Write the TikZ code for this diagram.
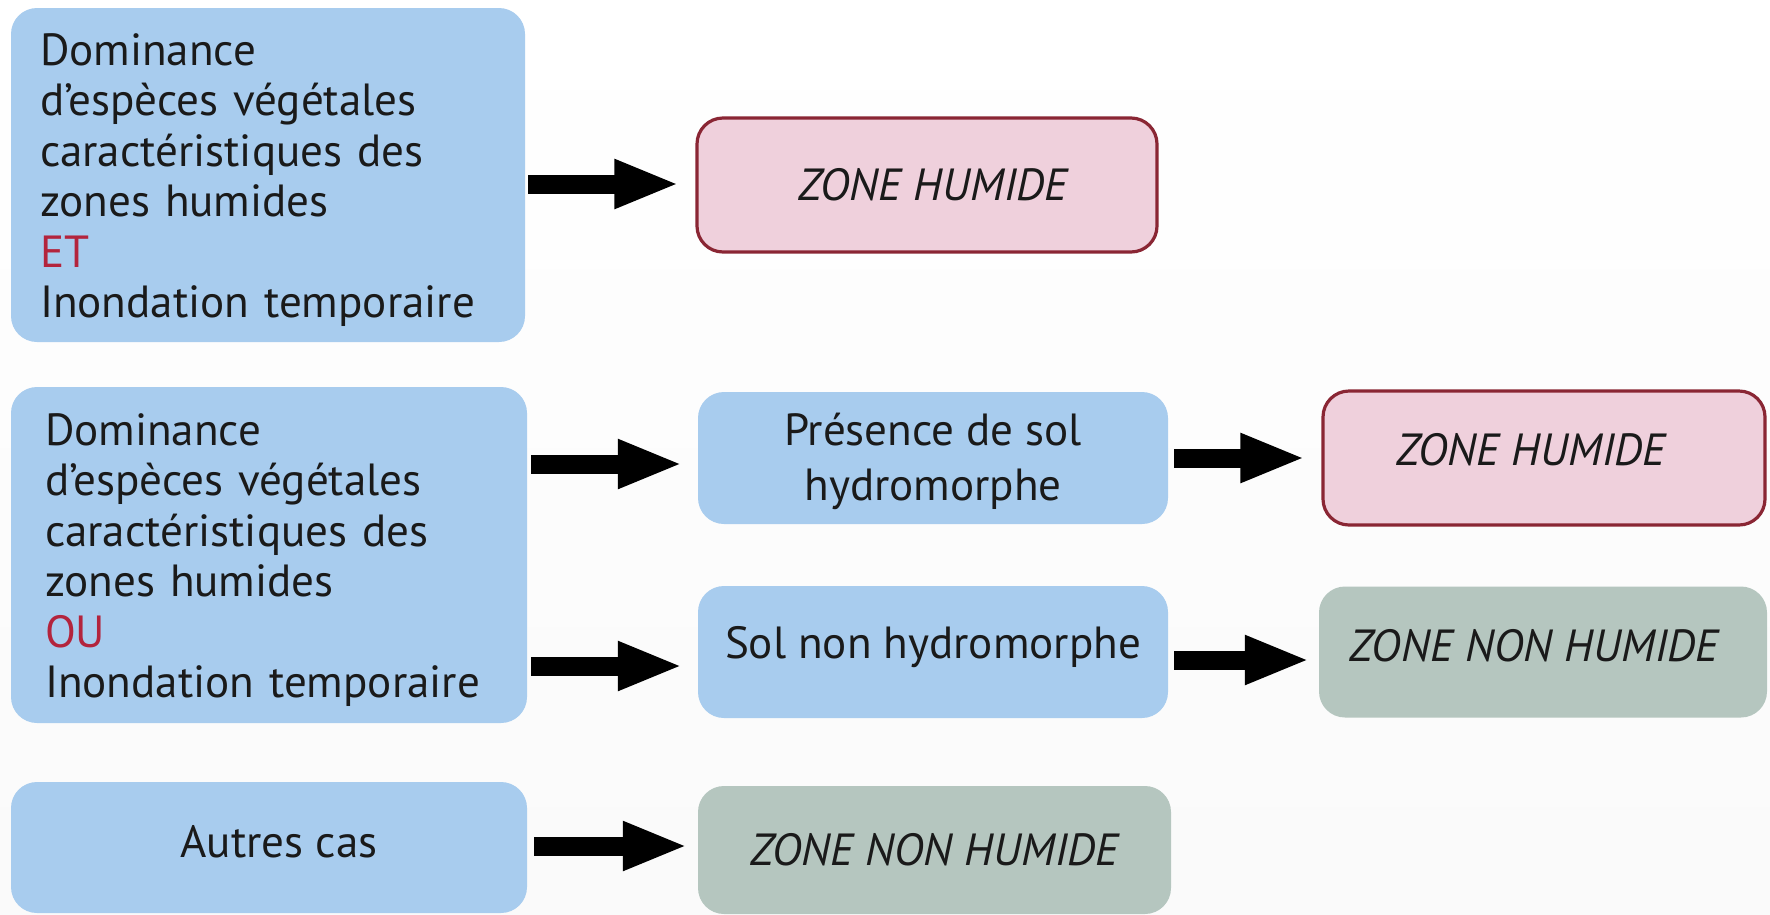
\documentclass[tikz,border=0pt]{standalone}
\usepackage{fontspec}
\setmainfont{PT Sans}
\usetikzlibrary{arrows.meta}
\definecolor{boxblue}{HTML}{A8CCEE}
\definecolor{zhpink}{HTML}{EFD0DC}
\definecolor{zhborder}{HTML}{8A2634}
\definecolor{znhgrey}{HTML}{B5C6BF}
\definecolor{keyred}{HTML}{B3243D}
\definecolor{txt}{HTML}{1A1A1A}
\newlength\refw
\begin{document}
\settowidth\refw{\fontsize{10}{12}\selectfont Inondation temporaire}%
\pgfmathsetmacro\fsz{432/\refw*10}%
\begin{tikzpicture}[x=1pt,y=-1pt]
\tikzset{
  base/.style={font=\fontsize{\fsz}{50.4}\selectfont, text=txt, rounded corners=26pt, inner sep=0pt, anchor=center},
  critbox/.style={base, fill=boxblue, align=left, minimum height=#1},
  midbox/.style={base, fill=boxblue, align=center, minimum width=470pt, minimum height=132pt},
  zh/.style={base, fill=zhpink, draw=zhborder, line width=3.2pt, minimum width=#1, minimum height=134pt, font=\fontsize{\fsz}{50.4}\selectfont\itshape},
  znh/.style={base, fill=znhgrey, minimum width=#1, minimum height=131pt, font=\fontsize{\fsz}{50.4}\selectfont\itshape},
  bigarrow/.style={line width=19pt, -{Triangle[length=65pt,width=45pt]}, shorten <=#1},
  bigarrow/.default=4pt,
}
\useasboundingbox (0,0) rectangle (1770,914);
\shade[top color=white, bottom color=black!2] (0,0) rectangle (1770,914);

% left criteria boxes
\node[critbox=334pt, text width=456pt, inner xsep=29pt] (c1) at (268,175)
  {\raisebox{10pt}{\vphantom{D}}Dominance\\d’espèces végétales\\caractéristiques des\\zones humides\\\textcolor{keyred}{ET}\\Inondation temporaire};
\node[critbox=336pt, text width=448pt, inner xsep=34pt] (c2) at (269,555)
  {\raisebox{10pt}{\vphantom{D}}Dominance\\d’espèces végétales\\caractéristiques des\\zones humides\\\textcolor{keyred}{OU}\\Inondation temporaire};
\node[critbox=131pt, minimum width=516pt, align=center] (c3) at (269,847.5) {\hspace*{20pt}Autres cas\raisebox{0pt}[0pt][12pt]{}};

% middle boxes
\node[midbox, font=\fontsize{\fsz}{55}\selectfont] (pres) at (933,458) {\raisebox{7pt}{\vphantom{P}}Présence de sol\\hydromorphe};
\node[midbox] (sol) at (933,652) {Sol non hydromorphe\raisebox{0pt}[0pt][20pt]{}};

% results
\node[zh=460pt] (zh1) at (927,185) {\hspace*{12pt}ZONE HUMIDE};
\node[zh=442pt] (zh2) at (1544,458) {ZONE HUMIDE\hspace*{26pt}\raisebox{0pt}[0pt][18pt]{}};
\node[znh=448pt] (znh1) at (1543,652) {ZONE NON HUMIDE\hspace*{18pt}\raisebox{0pt}[0pt][14pt]{}};
\node[znh=473pt, minimum height=128pt] (znh2) at (934.5,850) {ZONE NON HUMIDE};

% arrow heights
\coordinate (ya) at (0,184);
\coordinate (yb) at (0,464);
\coordinate (yc) at (0,666);
\coordinate (yd) at (0,458);
\coordinate (ye) at (0,660);
\coordinate (yf) at (0,846);

\draw[bigarrow=3pt, shorten >=16pt] (c1.east |- ya) -- (zh1.west |- ya);
\draw[bigarrow=4pt, shorten >=15pt] (c2.east |- yb) -- (pres.west |- yb);
\draw[bigarrow=4pt, shorten >=15pt] (c2.east |- yc) -- (sol.west |- yc);
\draw[bigarrow=6pt, shorten >=16pt] (pres.east |- yd) -- (zh2.west |- yd);
\draw[bigarrow=6pt, shorten >=9pt] (sol.east |- ye) -- (znh1.west |- ye);
\draw[bigarrow=7pt, shorten >=10pt] (c3.east |- yf) -- (znh2.west |- yf);
\end{tikzpicture}
\end{document}
